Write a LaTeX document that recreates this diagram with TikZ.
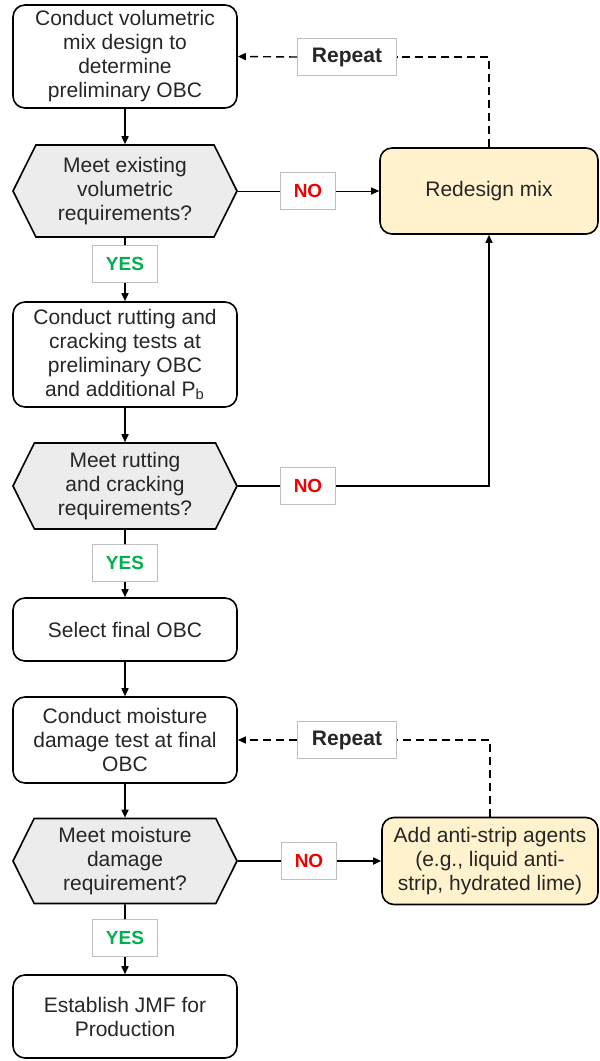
\documentclass[tikz,border=0pt]{standalone}
\usepackage{fontspec}
\setmainfont{Liberation Sans}
\usetikzlibrary{calc,positioning,shapes.symbols,arrows.meta}
\definecolor{hexgray}{RGB}{236,236,236}
\definecolor{fixyellow}{RGB}{255,242,204}
\definecolor{yesgreen}{RGB}{0,176,80}
\definecolor{nored}{RGB}{240,0,0}
\definecolor{tagline}{RGB}{190,190,190}
\begin{document}
\begin{tikzpicture}[x=0.5pt,y=-0.5pt]
\tikzset{proc/.style={shape=rectangle,draw,rounded corners=6pt,line width=0.8pt,align=center,minimum width=112pt,inner sep=1pt,text=black!85,font=\fontsize{10.5}{12}\selectfont}}
\tikzset{cond/.style={shape=signal,signal to=west and east,signal from=nowhere,signal pointer angle=127,draw,fill=hexgray,line width=0.8pt,align=center,minimum width=112pt,inner sep=1pt,text=black!85,font=\fontsize{10.5}{12}\selectfont}}
\tikzset{fix/.style={proc,fill=fixyellow,minimum width=109pt}}
\tikzset{tag/.style={shape=rectangle,draw=tagline,line width=0.4pt,fill=white,minimum height=18.5pt,font=\bfseries\fontsize{9.5}{10}\selectfont}}
\tikzset{link/.style={line width=0.8pt,-{Triangle[length=4pt,width=3.5pt]}}}
\tikzset{back/.style={line width=0.7pt,dash pattern=on 4pt off 2.5pt}}
\useasboundingbox (0,0) rectangle (600,1061);
%
\node at (125,56.5) [proc,minimum height=51.5pt] (mix) {Conduct volumetric\\mix design to\\determine\\preliminary OBC};
\node at (125,191) [cond,minimum height=46pt] (volcheck) {Meet existing\\volumetric\\requirements?};
\node at (125,264) [tag,minimum width=32.5pt,text=yesgreen] (yes1) {YES};
\node at (125,354.5) [proc,minimum height=52.5pt] (rut) {Conduct rutting and\\cracking tests at\\preliminary OBC\\and additional P\textsubscript{b}};
\node at (125,486) [cond,minimum height=43pt] (rutcheck) {Meet rutting\\and cracking\\requirements?};
\node at (125,563) [tag,minimum width=32.5pt,text=yesgreen] (yes2) {YES};
\node at (125,629.5) [proc,minimum height=31.5pt] (final) {Select final OBC};
\node at (125,740) [proc,minimum height=43pt] (moist) {Conduct moisture\\damage test at final\\OBC};
\node at (125,861) [cond,minimum height=42.5pt] (moistcheck) {Meet moisture\\damage\\requirement?};
\node at (125,938) [tag,minimum width=32.5pt,text=yesgreen] (yes3) {YES};
\node at (125,1016.5) [proc,minimum height=41.5pt] (jmf) {Establish JMF for\\Production};
%
\node at (489,191) [fix,minimum height=43pt] (redesign) {Redesign mix};
\node at (490,861) [fix,minimum width=108pt,minimum height=43.5pt] (antistrip) {Add anti-strip agents\\(e.g., liquid anti-\\strip, hydrated lime)};
\node at (308,191) [tag,minimum width=27.5pt,text=nored] (no1) {NO};
\node at (308,486) [tag,minimum width=27.5pt,text=nored] (no2) {NO};
\node at (309,861) [tag,minimum width=27.5pt,text=nored] (no3) {NO};
\node at (347,57) [tag,minimum width=49.5pt,font=\bfseries\fontsize{10.5}{12}\selectfont,text=black!85] (rep1) {Repeat};
\node at (347,740) [tag,minimum width=49.5pt,font=\bfseries\fontsize{10.5}{12}\selectfont,text=black!85] (rep2) {Repeat};
%
\draw[link] (mix) -- (volcheck);
\draw[line width=0.8pt] (volcheck) -- (yes1);
\draw[link] (yes1) -- (rut);
\draw[link] (rut) -- (rutcheck);
\draw[line width=0.8pt] (rutcheck) -- (yes2);
\draw[link] (yes2) -- (final);
\draw[link] (final) -- (moist);
\draw[link] (moist) -- (moistcheck);
\draw[line width=0.8pt] (moistcheck) -- (yes3);
\draw[link] (yes3) -- (jmf);
%
\draw[line width=0.5pt] (volcheck.east) -- (no1.west);
\draw[link,line width=0.5pt] (no1.east) -- (redesign.west);
\draw[line width=0.7pt] (rutcheck.east) -- (no2.west);
\draw[link,line width=0.7pt] (no2.east) -| (redesign.south);
\draw[line width=0.8pt] (moistcheck.east) -- (no3.west);
\draw[link] (no3.east) -- (antistrip.west);
%
\draw[back] (redesign.north) |- (rep1.east);
\draw[back,-{Triangle[length=4pt,width=3.5pt]}] (rep1.west) -- (mix.east);
\draw[back] (antistrip.north) |- (rep2.east);
\draw[back,-{Triangle[length=4pt,width=3.5pt]}] (rep2.west) -- (moist.east);
\end{tikzpicture}
\end{document}
